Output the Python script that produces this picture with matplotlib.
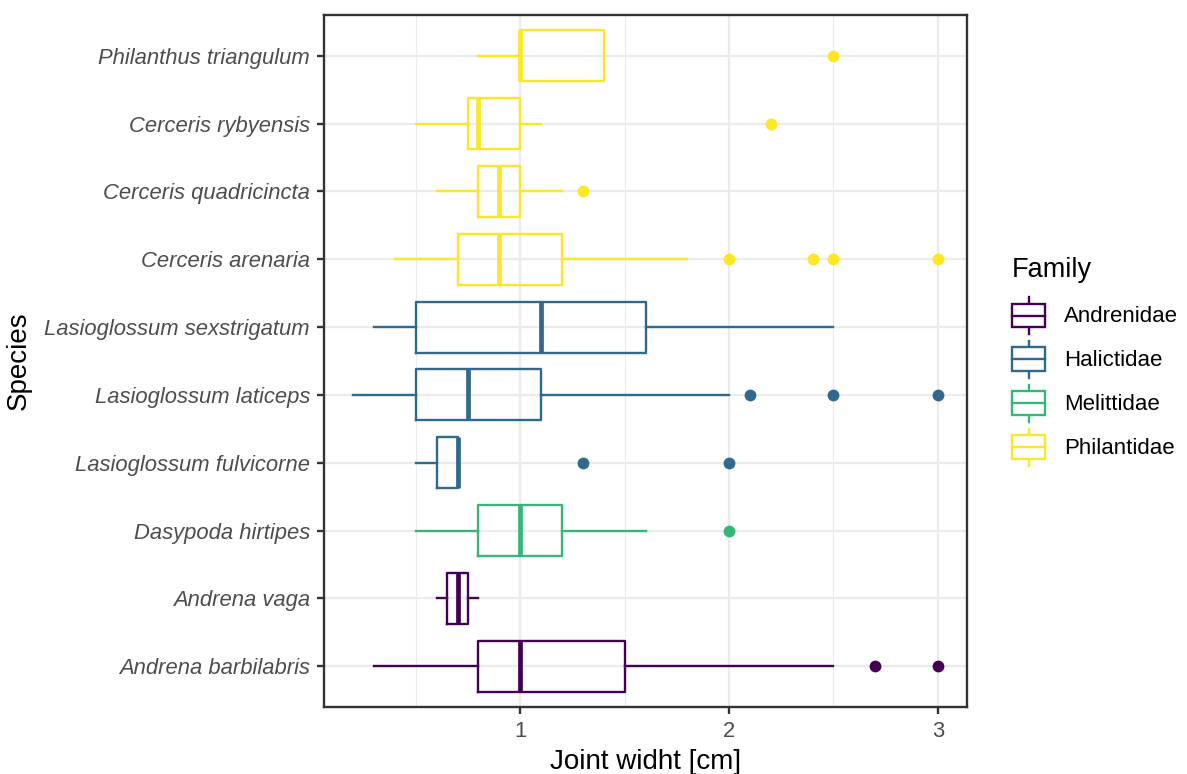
import matplotlib
matplotlib.use('Agg')
import matplotlib.pyplot as plt
from matplotlib.legend_handler import HandlerBase
from matplotlib.lines import Line2D
from matplotlib.patches import Rectangle

plt.rcParams['font.family'] = ['Liberation Sans', 'DejaVu Sans']

# bottom to top, as ggplot draws a flipped discrete axis
species = ['Andrena barbilabris', 'Andrena vaga', 'Dasypoda hirtipes',
           'Lasioglossum fulvicorne', 'Lasioglossum laticeps',
           'Lasioglossum sexstrigatum', 'Cerceris arenaria',
           'Cerceris quadricincta', 'Cerceris rybyensis',
           'Philanthus triangulum']
family = ['Andrenidae', 'Andrenidae', 'Melittidae', 'Halictidae', 'Halictidae',
          'Halictidae', 'Philantidae', 'Philantidae', 'Philantidae', 'Philantidae']
whislo = [0.3, 0.6, 0.5, 0.5, 0.2, 0.3, 0.4, 0.6, 0.5, 0.8]
q1 = [0.8, 0.65, 0.8, 0.6, 0.5, 0.5, 0.7, 0.8, 0.75, 1.0]
med = [1.0, 0.7, 1.0, 0.7, 0.75, 1.1, 0.9, 0.9, 0.8, 1.0]
q3 = [1.5, 0.75, 1.2, 0.7, 1.1, 1.6, 1.2, 1.0, 1.0, 1.4]
whishi = [2.5, 0.8, 1.6, 0.7, 2.0, 2.5, 1.8, 1.2, 1.1, 1.4]
outliers = [[2.7, 3.0], [], [2.0], [1.3, 2.0], [2.1, 2.5, 3.0], [],
            [2.0, 2.4, 2.5, 3.0], [1.3], [2.2], [2.5]]

families = ['Andrenidae', 'Halictidae', 'Melittidae', 'Philantidae']
family_colors = {'Andrenidae': '#440154', 'Halictidae': '#31688E',
                 'Melittidae': '#35B779', 'Philantidae': '#FDE725'}

LW = 1.7

fig = plt.figure(figsize=(11.87, 7.74), dpi=100)
ax = fig.add_axes([324 / 1187, 1 - 707 / 774, (967 - 324) / 1187, (707 - 15) / 774])

stats = []
for i in range(len(species)):
    stats.append({'whislo': whislo[i], 'q1': q1[i], 'med': med[i], 'q3': q3[i],
                  'whishi': whishi[i], 'fliers': outliers[i], 'label': species[i]})

pos = list(range(1, len(species) + 1))
bp = ax.bxp(stats, positions=pos, widths=0.75, orientation='horizontal',
            showcaps=False, showfliers=True, manage_ticks=False,
            boxprops=dict(linewidth=LW),
            whiskerprops=dict(linewidth=LW),
            medianprops=dict(linewidth=2 * LW, solid_capstyle='butt'),
            flierprops=dict(marker='o', markersize=8.5, markeredgewidth=0,
                            linestyle='none'))
for i, fam in enumerate(family):
    c = family_colors[fam]
    bp['boxes'][i].set_color(c)
    bp['medians'][i].set_color(c)
    bp['whiskers'][2 * i].set_color(c)
    bp['whiskers'][2 * i + 1].set_color(c)
    bp['fliers'][i].set_markerfacecolor(c)
for art in bp['boxes'] + bp['medians'] + bp['whiskers'] + bp['fliers']:
    art.set_zorder(3)

ax.set_xlim(0.06, 3.14)
ax.set_ylim(0.4, 10.6)
ax.set_xticks([1, 2, 3])
ax.set_xticklabels(['1', '2', '3'])
ax.set_xticks([0.5, 1.5, 2.5], minor=True)
ax.set_yticks(pos)
ax.set_yticklabels(species, fontstyle='italic')

ax.grid(which='major', color='#EBEBEB', linewidth=1.6, zorder=0)
ax.grid(which='minor', axis='x', color='#EBEBEB', linewidth=0.8, zorder=0)
ax.set_axisbelow(True)
ax.tick_params(which='major', length=5, width=LW, color='#333333',
               labelsize=15.8, labelcolor='#4D4D4D', pad=5)
ax.tick_params(which='minor', length=0)
for sp in ax.spines.values():
    sp.set_color('#333333')
    sp.set_linewidth(LW)

ax.set_xlabel('Joint widht [cm]', fontsize=20, labelpad=5)
ax.set_ylabel('Species', fontsize=20, labelpad=9)


class BoxKeyHandler(HandlerBase):
    def create_artists(self, legend, orig_handle, xdescent, ydescent,
                       width, height, fontsize, trans):
        c = orig_handle.get_color()
        x0, y0 = -xdescent, -ydescent
        bh = height * 0.64
        by = y0 + (height - bh) / 2
        rect = Rectangle((x0, by), width, bh, facecolor='white', edgecolor=c,
                         linewidth=LW, transform=trans)
        xm = x0 + width / 2
        lo = Line2D([xm, xm], [y0, by], color=c, linewidth=LW, transform=trans)
        hi = Line2D([xm, xm], [by + bh, y0 + height], color=c, linewidth=LW,
                    transform=trans)
        mid = Line2D([x0, x0 + width], [y0 + height / 2] * 2, color=c,
                     linewidth=LW, transform=trans)
        return [lo, hi, rect, mid]


handles = [Line2D([], [], color=family_colors[f]) for f in families]
leg = fig.legend(handles, families, loc='upper left',
                 bbox_to_anchor=(1012 / 1187, 1 - 257 / 774),
                 frameon=False, fontsize=16, title='Family',
                 title_fontsize=19.5, alignment='left',
                 handler_map={Line2D: BoxKeyHandler()},
                 handlelength=1.5, handleheight=2.2, handletextpad=0.85,
                 labelspacing=0.3, borderpad=0, borderaxespad=0)
leg._legend_box.sep = 10

fig.savefig('out.png', dpi=100, facecolor='white')
